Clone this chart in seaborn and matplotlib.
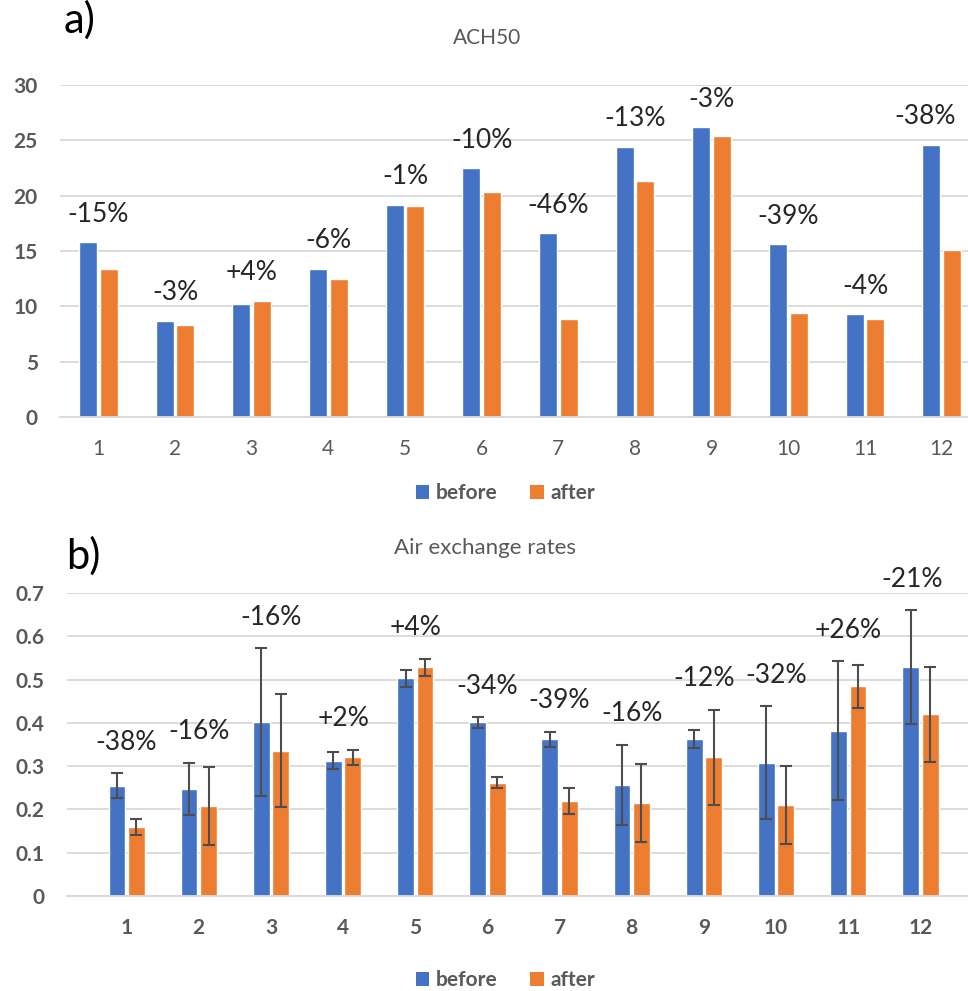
import numpy as np
import pandas as pd
import matplotlib
matplotlib.use("Agg")
import matplotlib.pyplot as plt
from matplotlib.patches import Patch
from matplotlib.ticker import FuncFormatter
import seaborn as sns

# ---------------- data ----------------
buildings = [str(i) for i in range(1, 13)]

ach50_before = [15.8, 8.7, 10.2, 13.4, 19.2, 22.5, 16.6, 24.4, 26.2, 15.6, 9.3, 24.6]
ach50_after = [13.4, 8.3, 10.5, 12.5, 19.1, 20.3, 8.9, 21.3, 25.4, 9.4, 8.9, 15.1]
ach50_change = ["-15%", "-3%", "+4%", "-6%", "-1%", "-10%", "-46%", "-13%", "-3%", "-39%", "-4%", "-38%"]

aer_before = [0.255, 0.247, 0.401, 0.313, 0.503, 0.401, 0.362, 0.257, 0.363, 0.308, 0.382, 0.529]
aer_before_err = [0.029, 0.061, 0.171, 0.020, 0.020, 0.012, 0.018, 0.092, 0.020, 0.130, 0.160, 0.131]
aer_after = [0.159, 0.207, 0.336, 0.320, 0.528, 0.262, 0.220, 0.214, 0.320, 0.210, 0.484, 0.420]
aer_after_err = [0.018, 0.090, 0.130, 0.018, 0.020, 0.012, 0.030, 0.090, 0.110, 0.090, 0.050, 0.110]
aer_change = ["-38%", "-16%", "-16%", "+2%", "+4%", "-34%", "-39%", "-16%", "-12%", "-32%", "+26%", "-21%"]

periods = ["before", "after"]

# ---------------- style ----------------
BLUE = "#4472C4"
ORANGE = "#ED7D31"
GRID = "#D9D9D9"
TICK = "#595959"
sns.set_style("white")
plt.rcParams["font.family"] = ["Lato", "DejaVu Sans"]

fig = plt.figure(figsize=(9.68, 9.91), dpi=100)


def long_df(before, after):
    return pd.DataFrame({
        "building": buildings * 2,
        "period": ["before"] * len(buildings) + ["after"] * len(buildings),
        "value": list(before) + list(after),
    })


def fmt(v, _):
    return "0" if abs(v) < 1e-9 else ("%g" % round(v, 2))


def style_axes(ax, ymax, step, bold_x, bold_y):
    ax.set_ylim(0, ymax)
    ax.set_yticks(np.round(np.arange(0, ymax + step / 2, step), 2))
    ax.yaxis.set_major_formatter(FuncFormatter(fmt))
    ax.yaxis.grid(True, color=GRID, linewidth=1.3)
    ax.set_axisbelow(True)
    for s in ["top", "right", "left"]:
        ax.spines[s].set_visible(False)
    ax.spines["bottom"].set_color(GRID)
    ax.spines["bottom"].set_linewidth(1.3)
    ax.tick_params(axis="both", length=0, colors=TICK, labelsize=15)
    ax.tick_params(axis="x", pad=16)
    ax.tick_params(axis="y", pad=16)
    for lab in ax.get_xticklabels():
        lab.set_fontweight("bold" if bold_x else "normal")
    for lab in ax.get_yticklabels():
        lab.set_fontweight("bold" if bold_y else "normal")
    ax.set_xlabel("")
    ax.set_ylabel("")


def add_legend(y):
    handles = [Patch(facecolor=BLUE, edgecolor="none", label="before"),
               Patch(facecolor=ORANGE, edgecolor="none", label="after")]
    leg = fig.legend(handles=handles, loc="center", bbox_to_anchor=(0.522, y), ncol=2,
                     frameon=False, handlelength=0.65, handleheight=0.65, handletextpad=0.3,
                     columnspacing=1.6, prop={"size": 15, "weight": "bold"})
    for t in leg.get_texts():
        t.set_color(TICK)


def add_changes(ax, labels, tops, dy, last_dx):
    n = len(labels)
    for i, lab in enumerate(labels):
        dx = last_dx if i == n - 1 else 0
        ax.annotate(lab, (i, tops[i]), xytext=(dx, dy), textcoords="offset pixels",
                    ha="center", va="center", fontsize=19, color="#262626")


# ---------------- panel a ----------------
ax1 = fig.add_axes([60 / 968, 1 - 417 / 991, 920 / 968, 332 / 991])
sns.barplot(data=long_df(ach50_before, ach50_after), x="building", y="value", hue="period",
            order=buildings, hue_order=periods, palette=[BLUE, ORANGE], width=0.54, gap=0.14,
            errorbar=None, legend=False, ax=ax1, saturation=1)
style_axes(ax1, 30, 5, bold_x=False, bold_y=True)
fig.text(487 / 968, 1 - 38 / 991, "ACH50", color=TICK, fontsize=15, ha="center", va="center")
add_changes(ax1, ach50_change, [max(b, a) for b, a in zip(ach50_before, ach50_after)], 28, -17)
fig.text(64 / 968, 1 - 20 / 991, "a)", fontsize=30, va="center", ha="left", color="black")
add_legend(1 - 493 / 991)

# ---------------- panel b ----------------
ax2 = fig.add_axes([67 / 968, 1 - 896 / 991, 913 / 968, 303 / 991])
sns.barplot(data=long_df(aer_before, aer_after), x="building", y="value", hue="period",
            order=buildings, hue_order=periods, palette=[BLUE, ORANGE], width=0.54, gap=0.14,
            errorbar=None, legend=False, ax=ax2, saturation=1)
for cont, vals, errs in zip(ax2.containers, [aer_before, aer_after], [aer_before_err, aer_after_err]):
    centers = [p.get_x() + p.get_width() / 2 for p in cont]
    ax2.errorbar(centers, vals, yerr=errs, fmt="none", ecolor="#4D4D4D",
                 elinewidth=1.5, capsize=4, capthick=1.5)
style_axes(ax2, 0.7, 0.1, bold_x=True, bold_y=True)
fig.text(485 / 968, 1 - 548 / 991, "Air exchange rates", color=TICK, fontsize=16,
         ha="center", va="center")
tops_b = [max(b + be, a + ae) for b, be, a, ae in zip(aer_before, aer_before_err, aer_after, aer_after_err)]
add_changes(ax2, aer_change, tops_b, 31, -8)
fig.text(66 / 968, 1 - 556 / 991, "b)", fontsize=30, va="center", ha="left", color="black")
add_legend(1 - 980 / 991)

fig.savefig("out.png", dpi=100)
